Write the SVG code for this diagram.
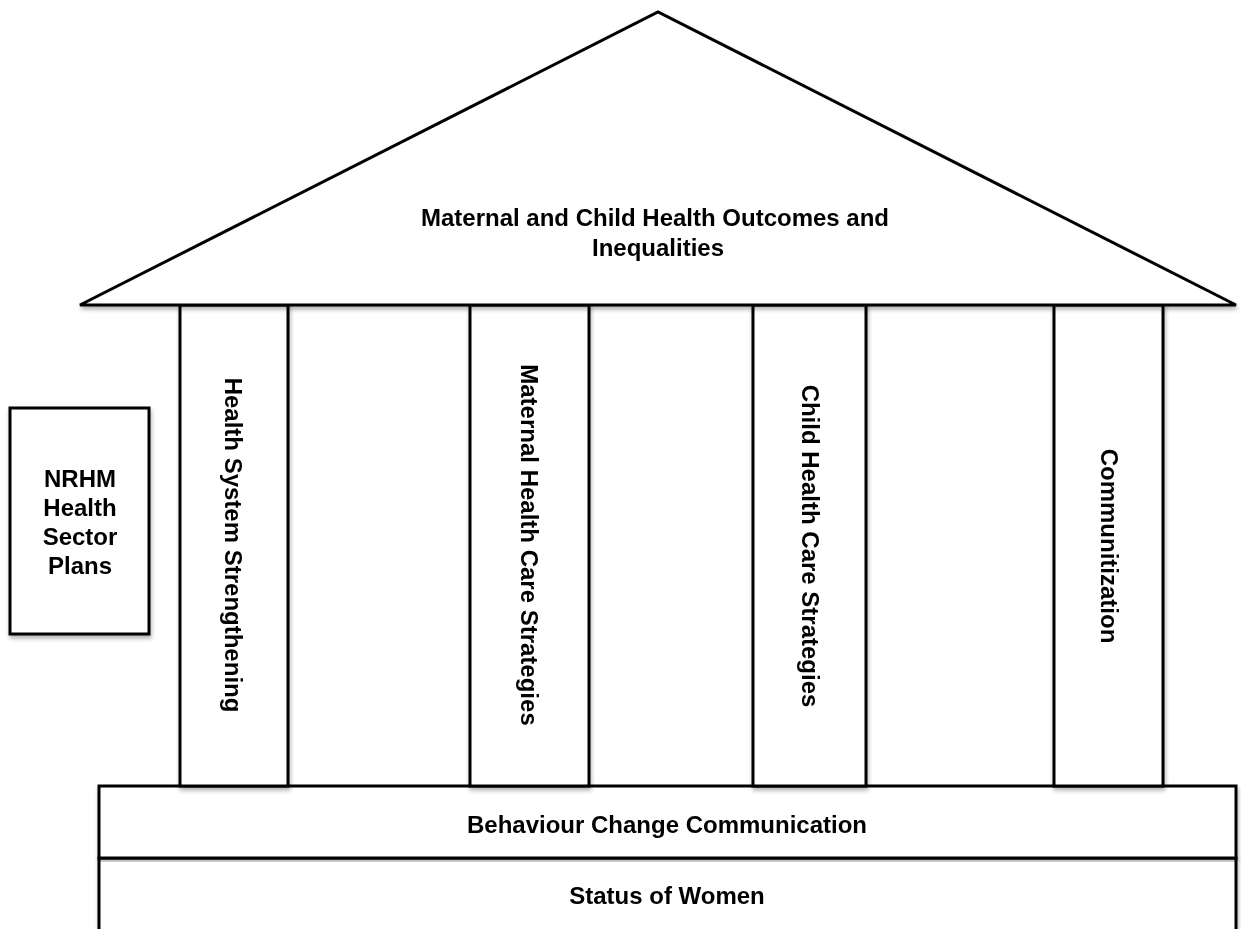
<svg xmlns="http://www.w3.org/2000/svg" width="1241" height="929" viewBox="0 0 1241 929">
<style>
.s{fill:#fff;stroke:#000;stroke-width:3;stroke-linejoin:miter}
.t{font-family:"Liberation Sans",Arial,sans-serif;font-weight:bold;font-size:24px;fill:#000;text-anchor:middle}
</style>
<defs>
<filter id="sh" x="-5%" y="-5%" width="110%" height="110%">
<feDropShadow dx="1" dy="3" stdDeviation="2" flood-color="#000" flood-opacity="0.3"/>
</filter>
</defs>
<rect width="1241" height="929" fill="#fff"/>
<g id="status" filter="url(#sh)">
<rect class="s" x="99" y="858" width="1137" height="80"/>
<text class="t" x="667" y="904">Status of Women</text>
</g>
<g id="bcc" filter="url(#sh)">
<rect class="s" x="99" y="786" width="1137" height="72"/>
<text class="t" x="667" y="833">Behaviour Change Communication</text>
</g>
<g id="pillar1" filter="url(#sh)">
<rect class="s" x="180" y="305" width="108" height="481"/>
<text class="t" transform="translate(225,545) rotate(90)">Health System Strengthening</text>
</g>
<g id="pillar2" filter="url(#sh)">
<rect class="s" x="470" y="305" width="119" height="481"/>
<text class="t" transform="translate(521,545) rotate(90)">Maternal Health Care Strategies</text>
</g>
<g id="pillar3" filter="url(#sh)">
<rect class="s" x="753" y="305" width="113" height="481"/>
<text class="t" transform="translate(802,546) rotate(90)">Child Health Care Strategies</text>
</g>
<g id="pillar4" filter="url(#sh)">
<rect class="s" x="1054" y="305" width="109" height="481"/>
<text class="t" transform="translate(1101,546) rotate(90)">Communitization</text>
</g>
<g id="roof" filter="url(#sh)">
<polygon class="s" points="80,305 658,12 1236,305"/>
<text class="t" x="655" y="226">Maternal and Child Health Outcomes and</text>
<text class="t" x="658" y="256">Inequalities</text>
</g>
<g id="nrhm" filter="url(#sh)">
<rect class="s" x="10" y="408" width="139" height="226"/>
<text class="t" x="80" y="487">NRHM</text>
<text class="t" x="80" y="516">Health</text>
<text class="t" x="80" y="545">Sector</text>
<text class="t" x="80" y="574">Plans</text>
</g>
<g id="connectors"></g>
</svg>
